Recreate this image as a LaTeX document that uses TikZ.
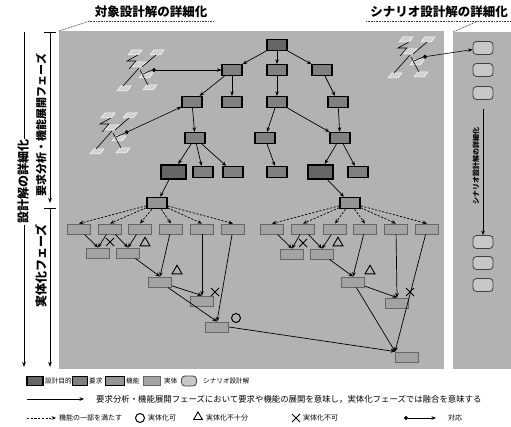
\documentclass[tikz,border=0pt]{standalone}
\usepackage{fontspec}
\setmainfont{Noto Sans CJK JP}
\usetikzlibrary{arrows.meta,shapes.geometric,shapes.misc,shadows}
\tikzset{
  panel/.style={fill=black!30},
  box/.style={rectangle, inner sep=0pt, minimum width=20pt, minimum height=11pt},
  obj/.style={box, draw=black, line width=1.7pt, fill=black!60},
  objbig/.style={obj, minimum width=25pt, minimum height=14pt, line width=2pt,
     drop shadow={shadow xshift=1.5pt, shadow yshift=-1.5pt, fill=black!12, opacity=1}},
  req/.style={box, draw=black, line width=1.2pt, fill=black!50},
  fun/.style={box, draw=black, line width=1.5pt, fill=black!42},
  ent/.style={box, draw=black!60, line width=0.9pt, fill=black!36, minimum width=23pt, minimum height=10pt},
  scen/.style={box, draw=black!75, line width=0.8pt, fill=black!22, rounded corners=3.5pt, minimum width=20pt, minimum height=13pt},
  ar/.style={line width=0.7pt, -{Stealth[length=4.5pt,width=3.6pt]}},
  dar/.style={ar, dash pattern=on 2.2pt off 1.5pt},
  corr/.style={line width=0.6pt, {Circle[length=4pt]}-{Stealth[length=4.5pt,width=3.6pt]}},
  axisar/.style={line width=0.8pt, -{Stealth[length=5pt,width=3.6pt]}},
  dotline/.style={line width=0.7pt, dash pattern=on 0.8pt off 0.8pt, black!75},
  ttl/.style={font=\fontsize{12.5}{13}\selectfont\bfseries, inner sep=0pt},
  vlab/.style={rotate=90, inner sep=1pt, font=\fontsize{12}{12}\selectfont\bfseries},
  tri/.style={regular polygon, regular polygon sides=3, draw=black, line width=0.9pt, minimum size=11.5pt, inner sep=0pt},
  xm/.style={cross out, draw=black, line width=1pt, minimum size=7pt, inner sep=0pt},
  om/.style={circle, draw=black, line width=1pt, minimum size=9pt, inner sep=0pt},
  pw/.style={draw=white, fill=black!18, line width=0.5pt},
  pl/.style={draw=black, line width=0.6pt},
  lg1/.style={font=\fontsize{6.6}{7}\selectfont, inner sep=0pt, anchor=west},
  lg2/.style={font=\fontsize{8.4}{9}\selectfont, inner sep=0pt, anchor=west},
  lg3/.style={font=\fontsize{7}{8}\selectfont, inner sep=0pt, anchor=west},
  pics/sketch/.style={code={
    \foreach \px/\py in {13/7, 35/7, 17/19, 24/30, 2/43, 28/42}{
      \draw[pw] (\px,\py) -- ++(10,0) -- ++(4,-5) -- ++(-10,0) -- cycle;}
    \draw[pl] (23,7) -- (12,13) -- (21,13) -- (14,21);
    \draw[pl] (41,7) -- (27,19);
    \draw[pl] (24,20) -- (8,38);
    \draw[pl] (25,22) -- (33,37);
    \draw[pl] (28,26) -- (37,22);
    \coordinate (-dot) at (37,22);
  }}
}
\begin{document}
\begin{tikzpicture}[x=1pt,y=-1pt]
\useasboundingbox (0,0) rectangle (511,427);
\fill[white] (0,0) rectangle (511,427);
% panels
\fill[panel] (59,31) rectangle (444,369);
\fill[panel] (453,32) rectangle (511,369);
% titles
\node[ttl] (t1) at (151,12) {対象設計解の詳細化};
\draw[dotline] (88,21) -- (214,21);
\draw[dotline] (59,31) -- (90,21);
\node[ttl] (t2) at (439,12) {シナリオ設計解の詳細化};
\draw[dotline] (366,21) -- (511,21);
\draw[dotline] (453,32) -- (478,21);
% left axes
\draw[axisar] (24,32) -- (24,367);
\node[vlab, fill=white] (a0) at (23,182) {設計解の詳細化};
\draw[line width=0.8pt] (44,32) -- (56,32);
\draw[axisar] (50,32) -- (50,203);
\node[vlab, font=\fontsize{11}{11}\selectfont\bfseries] (a1) at (41,125) {要求分析・機能展開フェーズ};
\draw[line width=0.8pt] (44,208) -- (56,208);
\draw[axisar] (50,208) -- (50,367);
\node[vlab] (a2) at (41,266) {実体化フェーズ};
% sketches
\pic (s1) at (115,48) {sketch};
\pic (s2) at (88,111) {sketch};
\pic (s3) at (386,35) {sketch};
% tree nodes
\node[obj] (n0) at (277,45) {};
\node[req] (n1a) at (232,70) {};
\node[req] (n1b) at (277,70) {};
\node[req] (n1c) at (322,70) {};
\node[req] (n2a) at (192,102) {};
\node[req] (n2b) at (232,102) {};
\node[req] (n2c) at (277,102) {};
\node[req] (n2d) at (338,102) {};
\node[req] (n3a) at (195,138) {};
\node[req] (n3b) at (265,138) {};
\node[req] (n3c) at (340,138) {};
\node[objbig] (L1) at (173,172) {};
\node[req] (L2) at (203,172) {};
\node[req] (L3) at (233,172) {};
\node[req] (R0) at (277,172) {};
\node[objbig] (R1) at (320,172) {};
\node[req] (R2) at (358,172) {};
\node[fun] (fL) at (157,203) {};
\node[fun] (fR) at (350,203) {};
% entities
\foreach \i/\x in {1/79,2/110,3/140,4/171,5/202,6/233}{\node[ent] (eL\i) at (\x,229) {};}
\foreach \i/\x in {1/272,2/303,3/335,4/365,5/396,6/427}{\node[ent] (eR\i) at (\x,229) {};}
\node[ent] (A) at (98,253) {};
\node[ent] (B) at (128,253) {};
\node[ent] (C) at (160,282) {};
\node[ent] (D) at (202,301) {};
\node[ent] (E) at (217,327) {};
\node[ent] (Ar) at (292,254) {};
\node[ent] (Br) at (322,254) {};
\node[ent] (Cr) at (353,282) {};
\node[ent] (Dr) at (397,303) {};
\node[ent] (Er) at (407,357) {};
% scenario nodes
\foreach \i/\y in {1/48,2/70,3/93,4/242,5/263,6/285}{\node[scen] (sc\i) at (483,\y) {};}
\draw[ar] ([yshift=-9pt]sc3.south) -- (sc4.north);
\node[rotate=90, inner sep=0pt, font=\fontsize{7}{7}\selectfont\bfseries] (sct) at (476,166) {シナリオ設計解の詳細化};
% correspondences
\draw[corr] (s1-dot) -- (n1a);
\draw[corr] (s2-dot) -- (n2a);
\draw[corr] (s3-dot) -- (sc1);
% tree edges
\foreach \a/\b in {n0/n1a,n0/n1b,n0/n1c,n1a/n2a,n1a/n2b,n1b/n2c,n1c/n2d,n2a/n3a,n2c/n3b,n2c/n3c,n2d/n3c,n3a/L1,n3a/L2,n3a/L3,n3b/R0,n3c/R1,n3c/R2,L1/fL,R1/fR}{\draw[ar] (\a) -- (\b);}
\foreach \i in {1,...,6}{\draw[dar] (fL) -- (eL\i.north); \draw[dar] (fR) -- (eR\i.north);}
% merging (left)
\draw[ar] (eL1) -- (A.north);
\draw[ar] (eL2) -- (A.north);
\draw[ar] (eL2) -- (B.north);
\draw[ar] (eL3) -- (B.north);
\draw[ar] (B) -- (C.north);
\draw[ar] (eL4) -- (C.north);
\draw[ar] (C) -- (D.north);
\draw[ar] (eL5) -- (D.north);
\draw[ar] (C) -- (E.north);
\draw[ar] (eL6) -- (E.north);
% merging (right)
\draw[ar] (eR1) -- (Ar.north);
\draw[ar] (eR2) -- (Ar.north);
\draw[ar] (eR2) -- (Br.north);
\draw[ar] (eR3) -- (Br.north);
\draw[ar] (Br) -- (Cr.north);
\draw[ar] (eR4) -- (Cr.north);
\draw[ar] (Cr) -- (Dr.north);
\draw[ar] (eR5) -- (Dr.north);
\draw[ar] (Cr) -- (Er.north west);
\draw[ar] (eR6) -- (Er.north west);
\draw[ar] (E.east) -- (Er.north west);
% marks
\node[xm] (mx1) at (110,242) {};
\node[tri] (mt1) at (145,243) {};
\node[tri] (mt2) at (177,271) {};
\node[xm] (mx2) at (215,292) {};
\node[om] (mo1) at (236,318) {};
\node[xm] (mx3) at (303,243) {};
\node[tri] (mt3) at (338,243) {};
\node[tri] (mt4) at (370,271) {};
\node[xm] (mx4) at (410,292) {};
% legend row 1
\node[obj, minimum width=16pt, minimum height=9pt] (lgA) at (35,381) {};
\node[lg1] (lgAt) at (45,381) {設計目的};
\node[req, minimum width=15pt, minimum height=9pt] (lgB) at (80,381) {};
\node[lg1] (lgBt) at (89,381) {要求};
\node[fun, minimum width=19pt, minimum height=9pt] (lgC) at (115,381) {};
\node[lg1] (lgCt) at (126,381) {機能};
\node[ent, minimum width=17pt, minimum height=9pt] (lgD) at (152,381) {};
\node[lg1] (lgDt) at (164,381) {実体};
\node[scen, minimum width=15pt, minimum height=10pt] (lgE) at (189,381) {};
\node[lg1] (lgEt) at (203,381) {シナリオ設計解};
% legend row 2
\coordinate (lr2a) at (27,399);
\coordinate (lr2b) at (84,399);
\draw[ar] (lr2a) -- (lr2b);
\node[lg2] (lr2t) at (96,399) {要求分析・機能展開フェーズにおいて要求や機能の展開を意味し，実体化フェーズでは融合を意味する};
% legend row 3
\coordinate (lr3a) at (27,418);
\coordinate (lr3b) at (56,418);
\draw[dar] (lr3a) -- (lr3b);
\node[lg3] (lr3t) at (59,418) {機能の一部を満たす};
\node[om] (lgO) at (140,418) {};
\node[lg3] (lgOt) at (148,418) {実体化可};
\node[tri, minimum size=10pt] (lgT) at (198,417) {};
\node[lg3] (lgTt) at (206,418) {実体化不十分};
\node[xm] (lgX) at (296,418) {};
\node[lg3] (lgXt) at (303,418) {実体化不可};
\coordinate (lr3c) at (404,418);
\coordinate (lr3d) at (436,418);
\draw[corr] (lr3c) -- (lr3d);
\node[lg3] (lr3e) at (448,418) {対応};
\end{tikzpicture}
\end{document}
